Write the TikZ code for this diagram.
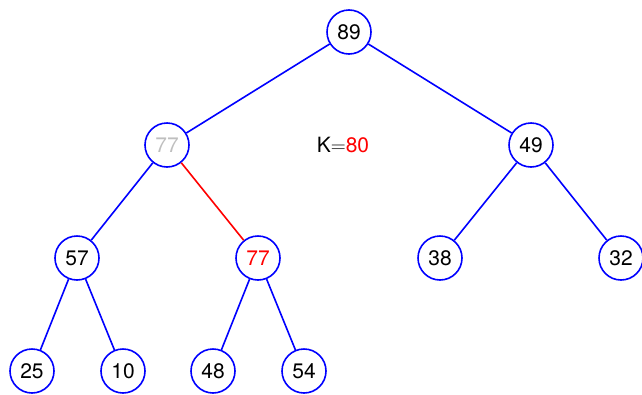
\documentclass[tikz,border=0pt]{standalone}
\usepackage{fontspec}
\setmainfont{TeX Gyre Heros}
\begin{document}
\begin{tikzpicture}[x=1pt,y=-1pt,
  nd/.style={circle,draw=blue,line width=1.6pt,minimum size=44pt,inner sep=0pt,font=\fontsize{21}{25}\selectfont},
  ed/.style={draw=blue,line width=1.6pt},
  red edge/.style={draw=red,line width=1.6pt}]
\useasboundingbox (0,0) rectangle (642,394);
\node[nd] (n89) at (349,32) {89};
\node[nd,text=lightgray] (n77a) at (167,145) {77};
\node[nd] (n49) at (531,145) {49};
\node[nd] (n57) at (77,258) {57};
\node[nd,text=red] (n77b) at (258,258) {77};
\node[nd] (n38) at (440,258) {38};
\node[nd] (n32) at (621,258) {32};
\node[nd] (n25) at (32,371) {25};
\node[nd] (n10) at (123,371) {10};
\node[nd] (n48) at (213,371) {48};
\node[nd] (n54) at (304,371) {54};
\node[font=\fontsize{21}{25}\selectfont] (k) at (343,145) {K$=$\textcolor{red}{80}};
\draw[ed] (n89) -- (n77a);
\draw[ed] (n89) -- (n49);
\draw[ed] (n77a) -- (n57);
\draw[red edge] (n77a) -- (n77b);
\draw[ed] (n49) -- (n38);
\draw[ed] (n49) -- (n32);
\draw[ed] (n57) -- (n25);
\draw[ed] (n57) -- (n10);
\draw[ed] (n77b) -- (n48);
\draw[ed] (n77b) -- (n54);
\end{tikzpicture}
\end{document}
